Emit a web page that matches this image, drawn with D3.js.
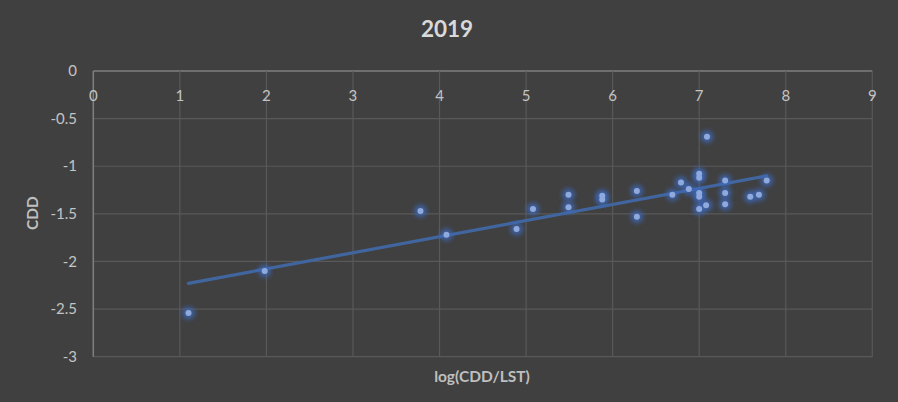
<!DOCTYPE html>
<html>
<head>
<meta charset="utf-8">
<script src="https://cdn.jsdelivr.net/npm/d3@7"></script>
<style>
  html, body { margin: 0; padding: 0; background: #404040; }
  svg { display: block; }
  text { font-family: "Lato", "Open Sans", "Liberation Sans", sans-serif; }
</style>
</head>
<body>
<svg id="chart" width="898" height="402"></svg>
<script>
const title = "2019";
const xLabel = "log(CDD/LST)";
const yLabel = "CDD";
const xTicks = [0, 1, 2, 3, 4, 5, 6, 7, 8, 9];
const yTicks = [0, -0.5, -1, -1.5, -2, -2.5, -3];
const xValues = [1.10, 1.98, 3.78, 4.08, 4.89, 5.08, 5.49, 5.49, 5.88, 5.88, 6.28, 6.28, 6.69, 6.79,
                 6.88, 7.00, 7.00, 7.00, 7.00, 7.00, 7.08, 7.09, 7.30, 7.30, 7.30, 7.59, 7.69, 7.78];
const yValues = [-2.54, -2.10, -1.47, -1.72, -1.66, -1.45, -1.30, -1.43, -1.31, -1.35, -1.26, -1.53, -1.30, -1.17,
                 -1.24, -1.08, -1.12, -1.28, -1.32, -1.45, -1.41, -0.69, -1.15, -1.28, -1.40, -1.32, -1.30, -1.15];

const svg = d3.select("#chart");
const pLeft = 93.3, pRight = 872.3, pTop = 71, pBottom = 356.7;
const x = d3.scaleLinear().domain([0, 9]).range([pLeft, pRight]);
const y = d3.scaleLinear().domain([-3, 0]).range([pBottom, pTop]);

const defs = svg.append("defs");
defs.append("filter").attr("id", "glow").attr("x", "-100%").attr("y", "-100%").attr("width", "300%").attr("height", "300%")
  .append("feGaussianBlur").attr("stdDeviation", 2.6);

// gridlines
svg.append("g").selectAll("line").data(yTicks).join("line")
  .attr("x1", pLeft).attr("x2", pRight).attr("y1", d => y(d)).attr("y2", d => y(d))
  .attr("stroke", d => d === 0 ? "#7f7f7f" : "#595959").attr("stroke-width", d => d === 0 ? 1.5 : 1.2);
svg.append("g").selectAll("line").data(xTicks).join("line")
  .attr("x1", d => x(d)).attr("x2", d => x(d)).attr("y1", pTop).attr("y2", pBottom)
  .attr("stroke", d => d === 0 ? "#7f7f7f" : "#595959").attr("stroke-width", d => d === 0 ? 1.5 : 1.2);

// tick labels
svg.append("g").selectAll("text").data(xTicks).join("text")
  .attr("x", d => x(d)).attr("y", 100.5).attr("text-anchor", "middle")
  .attr("fill", "#c4c4c4").attr("font-size", 15).text(d => d);
svg.append("g").selectAll("text").data(yTicks).join("text")
  .attr("x", 77).attr("y", d => y(d) + 5.2).attr("text-anchor", "end")
  .attr("fill", "#c4c4c4").attr("font-size", 15).text(d => d);

// trend line (least squares)
const n = xValues.length;
const mx = d3.mean(xValues), my = d3.mean(yValues);
let sxy = 0, sxx = 0;
for (let i = 0; i < n; i++) { sxy += (xValues[i] - mx) * (yValues[i] - my); sxx += (xValues[i] - mx) ** 2; }
const slope = sxy / sxx, intercept = my - slope * mx;
const x0 = d3.min(xValues), x1 = d3.max(xValues);
svg.append("line")
  .attr("x1", x(x0)).attr("y1", y(intercept + slope * x0))
  .attr("x2", x(x1)).attr("y2", y(intercept + slope * x1))
  .attr("stroke", "#41669f").attr("stroke-width", 3.2).attr("stroke-linecap", "round");

// points
const pts = xValues.map((v, i) => [v, yValues[i]]);
svg.append("g").selectAll("circle").data(pts).join("circle")
  .attr("cx", d => x(d[0])).attr("cy", d => y(d[1])).attr("r", 6)
  .attr("fill", "#3d6ac0").attr("opacity", 0.85).attr("filter", "url(#glow)");
svg.append("g").selectAll("circle").data(pts).join("circle")
  .attr("cx", d => x(d[0])).attr("cy", d => y(d[1])).attr("r", 3)
  .attr("fill", "#8fa9dc");

// titles
svg.append("text").attr("x", 447).attr("y", 37).attr("text-anchor", "middle")
  .attr("fill", "#d9d9d9").attr("font-size", 22.5).attr("font-weight", "bold").text(title);
svg.append("text").attr("x", 482).attr("y", 382).attr("text-anchor", "middle")
  .attr("fill", "#bfbfbf").attr("font-size", 15.5).attr("font-weight", "bold").text(xLabel);
svg.append("text").attr("transform", "translate(38,213) rotate(-90)").attr("text-anchor", "middle")
  .attr("fill", "#bfbfbf").attr("font-size", 15.5).attr("font-weight", "bold").text(yLabel);
</script>
</body>
</html>
